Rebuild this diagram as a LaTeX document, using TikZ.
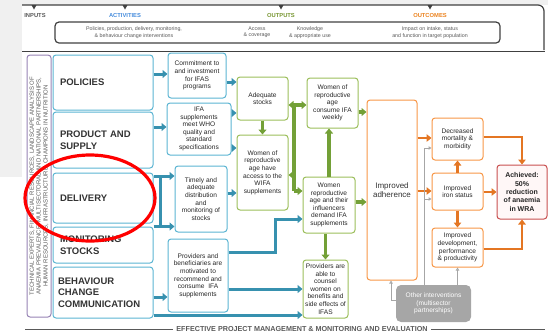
\documentclass[tikz,border=0pt]{standalone}
\usepackage{fontspec}
\setmainfont{Liberation Sans}
\usetikzlibrary{arrows.meta}

\definecolor{actblue}{RGB}{91,180,210}
\definecolor{arrblue}{RGB}{55,145,175}
\definecolor{outgreen}{RGB}{155,190,90}
\definecolor{arrgreen}{RGB}{115,160,55}
\definecolor{endorange}{RGB}{247,150,70}
\definecolor{arrorange}{RGB}{228,118,35}
\definecolor{goalred}{RGB}{200,80,80}
\definecolor{inpurple}{RGB}{150,130,180}
\definecolor{framegray}{RGB}{64,64,64}
\definecolor{txtgray}{RGB}{89,89,89}
\definecolor{hdblue}{RGB}{70,140,220}
\definecolor{hdgreen}{RGB}{120,150,50}
\definecolor{hdorange}{RGB}{235,130,30}
\definecolor{othgray}{RGB}{166,166,166}

\tikzset{
  box/.style={draw, rounded corners=3pt, line width=1pt, align=center, inner sep=1pt,
    font=\fontsize{6.6}{7.6}\selectfont, text=black!85},
  actbox/.style={box, draw=actblue},
  headbox/.style={actbox, align=left, text width=86pt, inner xsep=7pt,
    font=\fontsize{9.5}{11.5}\selectfont\bfseries, text=black!80},
  outbox/.style={box, draw=outgreen},
  endbox/.style={box, draw=endorange},
  hdlab/.style={font=\fontsize{5.8}{7}\selectfont\bfseries},
  hdtxt/.style={align=center, font=\fontsize{5.3}{6.3}\selectfont, text=txtgray},
  barrow/.style={arrblue, line width=3pt, -{Triangle[length=5pt,width=8pt]}},
  bline/.style={arrblue, line width=3pt},
  garrow/.style={arrgreen, line width=3.2pt, -{Triangle[length=5pt,width=8pt]}},
  gline/.style={arrgreen, line width=3.2pt},
  oarrow/.style={arrorange, line width=2.8pt, -{Triangle[length=5pt,width=7.5pt]}},
  tarrow/.style={othgray, line width=0.8pt, -{Triangle[length=3pt,width=3.5pt,open]}}
}

\begin{document}
\begin{tikzpicture}[x=1pt,y=-1pt]
  \useasboundingbox (0,0) rectangle (548,333);
  % background
  \fill[black!6] (0,0) rectangle (548,5);
  \fill[black!6] (0,0) rectangle (22,177);

  % header
  \draw[framegray, line width=1.2pt, rounded corners=6pt] (22,5) -- (544,5) -- (544,50);
  \foreach \hx in {34,125,281,430}
    \fill[framegray] (\hx-2.5,5) -- (\hx+2.5,5) -- (\hx,9.5) -- cycle;
  \node[hdlab, text=txtgray] (inp) at (35,15.5) {INPUTS};
  \node[hdlab, text=hdblue] (act) at (125,15.5) {ACTIVITIES};
  \node[hdlab, text=hdgreen] (outp) at (281,15.5) {OUTPUTS};
  \node[hdlab, text=hdorange] (outc) at (430,15.5) {OUTCOMES};
  \draw[framegray, line width=1.2pt, rounded corners=4pt] (55,22) rectangle (500,43);
  \node[hdtxt] (acttxt) at (134,32.5) {Policies, production, delivery, monitoring,\\ \& behaviour change interventions};
  \node[hdtxt] (acctxt) at (257,32.5) {Access\\ \& coverage};
  \node[hdtxt] (knotxt) at (310,32.5) {Knowledge\\ \& appropriate use};
  \node[hdtxt] (imptxt) at (430,32.5) {Impact on intake, status\\ and function in target population};
  \draw[framegray, double, double distance=1pt, line width=0.6pt] (22,52) -- (545,52);

  % inputs
  \node[draw=inpurple, line width=1pt, rounded corners=3pt, minimum width=24pt, minimum height=262pt,
    inner sep=0pt] (inbox) at (39,186) {};
  \node[rotate=90, align=center, text=txtgray, font=\fontsize{6}{6.9}\selectfont] (intxt) at (39,186)
    {TECHNICAL EXPERTS, FINANCIAL RESOURCES, LANDSCAPE ANALYSIS OF\\
     ANAEMIA PREVALENCE, MULTISECTORAL AND NATIONAL PARTNERSHIPS,\\
     HUMAN RESOURCES, INFRASTRUCTURE, CHAMPIONS IN NUTRITION};

  % activities
  \node[headbox, minimum height=55pt] (pol) at (103,82.5) {POLICIES};
  \node[headbox, minimum height=56pt] (prod) at (103,140) {PRODUCT AND\\ SUPPLY};
  \node[headbox, minimum height=50pt] (deliv) at (103,198) {DELIVERY};
  \node[headbox, minimum height=36pt] (monit) at (103,245) {MONITORING\\ STOCKS};
  \node[headbox, minimum height=51pt, inner xsep=5pt, text width=90pt] (bcc) at (103,292.5) {BEHAVIOUR\\ CHANGE\\ COMMUNICATION};

  \node[actbox, minimum width=58pt, minimum height=45pt] (com) at (197,75.5) {Commitment to\\ and investment\\ for IFAS\\ programs};
  \node[actbox, minimum width=64pt, minimum height=52pt] (ifa) at (199,129) {IFA\\ supplements\\ meet WHO\\ quality and\\ standard\\ specifications};
  \node[actbox, minimum width=52pt, minimum height=66pt] (timely) at (201,199) {Timely and\\ adequate\\ distribution\\ and\\ monitoring of\\ stocks};
  \node[actbox, minimum width=60pt, minimum height=73pt] (pmot) at (198,275.5) {Providers and\\ beneficiaries are\\ motivated to\\ recommend and\\ consume\ \ IFA\\ supplements};

  % outputs
  \node[outbox, minimum width=51pt, minimum height=43pt] (stocks) at (262.5,98.5) {Adequate\\ stocks};
  \node[outbox, minimum width=51pt, minimum height=75pt] (access) at (262.5,172.5) {Women of\\ reproductive\\ age have\\ access to the\\ WIFA\\ supplements};
  \node[outbox, minimum width=51pt, minimum height=50pt] (consume) at (332.5,103) {Women of\\ reproductive\\ age\\ consume IFA\\ weekly};
  \node[outbox, minimum width=52pt, minimum height=56pt] (demand) at (329,205) {Women\\ reproductive\\ age and their\\ influencers\\ demand IFA\\ supplements};
  \node[outbox, minimum width=45pt, minimum height=58pt] (able) at (325.5,289) {Providers are\\ able to\\ counsel\\ women on\\ benefits and\\ side effects of\\ IFAS};

  % outcomes
  \node[endbox, minimum width=50pt, minimum height=180pt, font=\fontsize{8}{9.5}\selectfont, text=black!80] (adh) at (392,190) {Improved\\ adherence};
  \node[endbox, minimum width=51pt, minimum height=42pt] (decr) at (457.5,139) {Decreased\\ mortality \&\\ morbidity};
  \node[endbox, minimum width=51pt, minimum height=37pt] (iron) at (457.5,191.5) {Improved\\ iron status};
  \node[endbox, minimum width=51pt, minimum height=39pt] (dev) at (457.5,247.5) {Improved\\ development,\\ performance\\ \& productivity};
  \node[box, draw=goalred, fill=red!3, minimum width=50pt, minimum height=54pt,
    font=\fontsize{7}{8.3}\selectfont\bfseries] (ach) at (522,192) {Achieved:\\ 50\%\\ reduction\\ of anaemia\\ in WRA};
  \node[box, draw=none, fill=othgray, rounded corners=5pt, text=white, minimum width=75pt, minimum height=37pt] (oth) at (433.5,303.5) {Other interventions\\ (multisector\\ partnerships)};

  % blue arrows
  \draw[barrow] (pol.east |- 0,74) -- (com.west |- 0,74);
  \draw[barrow] (prod.east |- 0,127) -- (ifa.west |- 0,127);
  \draw[barrow] (com.east |- 0,82) -- (stocks.west |- 0,82);
  \draw[barrow] (ifa.east |- 0,113) -- (stocks.west |- 0,113);
  \draw[barrow] (ifa.east |- 0,148) -- (access.west |- 0,148);
  \draw[barrow] (timely.east |- 0,193) -- (access.west |- 0,193);
  \coordinate (bt) at (160,176);
  \coordinate (bb) at (160,227);
  \draw[bline] (bt) -- (bb);
  \draw[barrow] (deliv.east |- bt) -- (timely.west |- bt);
  \draw[barrow] (monit.north east) -- (timely.west |- monit.north east);
  \draw[barrow] (bcc.east |- 0,297) -- (pmot.west |- 0,297);
  \draw[barrow] (bcc.east |- 0,315) -- (able.west |- 0,315);
  \draw[barrow] (pmot.east |- 0,252) -- ++(47,0) |- (demand.west |- 0,219);
  \draw[barrow] (pmot.east |- 0,289) -- (able.west |- 0,289);

  % green arrows
  \draw[garrow] (stocks.south) -- (access.north);
  \coordinate (gt) at (294,105);
  \coordinate (gb) at (294,191);
  \draw[gline] (gt) -- (gb);
  \draw[garrow] (gt) -- (stocks.east |- gt);
  \draw[garrow] (gt) -- (consume.west |- gt);
  \draw[garrow] (gt |- 0,175) -- (access.east |- 0,175);
  \draw[garrow] (gb) -- (demand.west |- gb);
  \draw[garrow] (demand.north) -- (demand.north |- consume.south);
  \draw[garrow] (consume.east |- 0,112) -- (adh.west |- 0,112);
  \draw[garrow] (demand.east |- 0,202) -- (adh.west |- 0,202);
  \draw[garrow, {Triangle[length=5pt,width=8pt]}-] (able.north) -- (able.north |- demand.south);

  % orange arrows
  \draw[oarrow] (adh.east |- 0,138) -- (decr.west |- 0,138);
  \draw[oarrow] (adh.east |- 0,191) -- (iron.west |- 0,191);
  \draw[oarrow] (iron.north) -- (decr.south);
  \draw[oarrow] (iron.south) -- (dev.north);
  \draw[oarrow] (iron.east |- 0,192) -- (ach.west |- 0,192);
  \draw[oarrow] (decr.east |- 0,137) -| (ach.north);
  \draw[oarrow] (dev.east |- 0,249) -| (ach.south);

  % other interventions
  \draw[tarrow] (oth.west |- 0,300) -| (adh.south -| 391,0);
  \coordinate (og) at (424,199);
  \draw[tarrow] (oth.north -| og) |- (decr.west |- 0,148);
  \draw[tarrow] (og) -- (iron.west |- og);
  \draw[tarrow] (oth.north -| dev.south) -- (dev.south);

  % red mark
  \draw[red, line width=3.2pt] (90,198) ellipse [x radius=65, y radius=43];

  % footer
  \node[font=\fontsize{7.2}{8}\selectfont\bfseries, text=txtgray] (pme) at (302,329) {EFFECTIVE PROJECT MANAGEMENT \& MONITORING AND EVALUATION};
  \coordinate (fl) at (25,329);
  \coordinate (fr) at (545,329);
  \draw[txtgray, line width=1pt] (fl) -- (pme.west);
  \draw[txtgray, line width=1pt] (pme.east) -- (fr);
\end{tikzpicture}
\end{document}
